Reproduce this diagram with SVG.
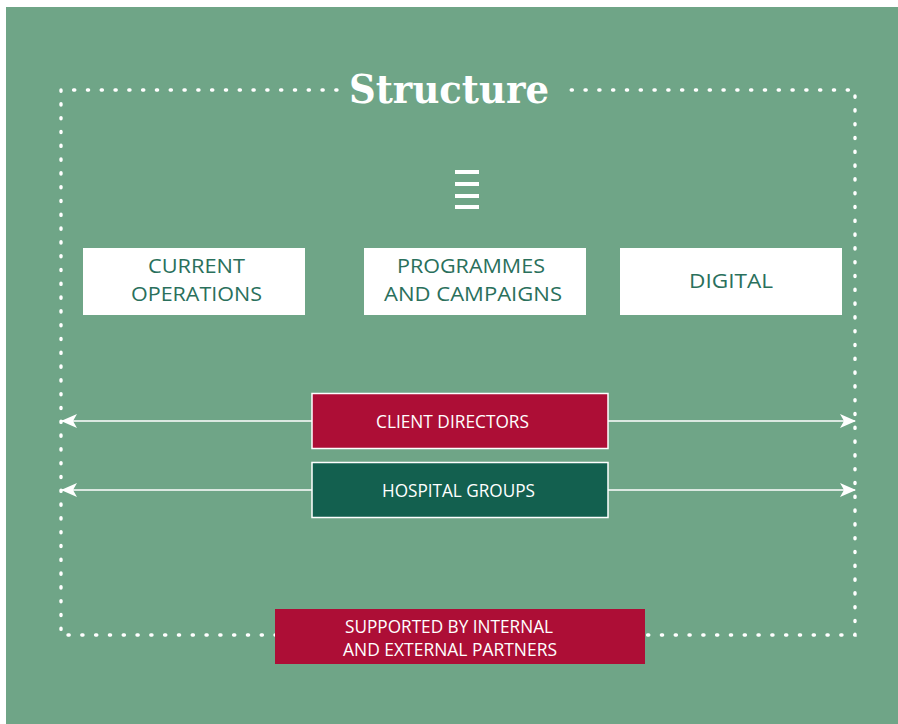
<svg xmlns="http://www.w3.org/2000/svg" width="898" height="724" viewBox="0 0 898 724">
  <defs>
    <style>
      .bg { fill: #6fa587; }
      .frame { fill: none; stroke: #ffffff; stroke-width: 3.4; stroke-linecap: round; stroke-dasharray: 1.2 12.6; }
      .title { font-family: "DejaVu Serif", "Liberation Serif", serif; font-weight: bold; font-size: 40px; fill: #ffffff; }
      .bar { fill: #ffffff; }
      .pill { fill: #ffffff; }
      .pill-text { font-family: "Open Sans", "Noto Sans", sans-serif; font-size: 20px; fill: #2a705c; text-anchor: middle; }
      .band-red { fill: #ad0e36; stroke: #ffffff; stroke-width: 1.5; }
      .band-green { fill: #13604f; stroke: #ffffff; stroke-width: 1.5; }
      .band-text { font-family: "Open Sans", "Noto Sans", sans-serif; font-size: 17.5px; fill: #ffffff; text-anchor: middle; }
      .link { stroke: #ffffff; stroke-width: 1.6; fill: none; }
      .support { fill: #ad0e36; }
    </style>
    <marker id="head" viewBox="0 0 16 14" refX="15" refY="7" markerWidth="16" markerHeight="14" markerUnits="userSpaceOnUse" orient="auto-start-reverse">
      <path d="M0,0 L16,7 L0,14 L4,7 Z" fill="#ffffff"/>
    </marker>
  </defs>

  <!-- panel -->
  <rect class="bg" x="6" y="7" width="892" height="717"/>

  <!-- dotted outline, open at the top for the heading -->
  <path class="frame" d="M337,90 H61 V635 H855 V90 H565"/>

  <g id="title">
    <text class="title" x="449" y="103" text-anchor="middle" textLength="200" lengthAdjust="spacingAndGlyphs">Structure</text>
  </g>

  <g id="menu-icon">
    <rect class="bar" x="455" y="170" width="24" height="4"/>
    <rect class="bar" x="455" y="182" width="24" height="4"/>
    <rect class="bar" x="455" y="194" width="24" height="4"/>
    <rect class="bar" x="455" y="205" width="24" height="4"/>
  </g>

  <g id="current-operations">
    <rect class="pill" x="83" y="248" width="222" height="67"/>
    <text class="pill-text" x="196.5" y="273" textLength="97" lengthAdjust="spacingAndGlyphs">CURRENT</text>
    <text class="pill-text" x="196.5" y="301" textLength="131" lengthAdjust="spacingAndGlyphs">OPERATIONS</text>
  </g>

  <g id="programmes-campaigns">
    <rect class="pill" x="364" y="248" width="222" height="67"/>
    <text class="pill-text" x="471" y="273" textLength="148" lengthAdjust="spacingAndGlyphs">PROGRAMMES</text>
    <text class="pill-text" x="473" y="301" textLength="178" lengthAdjust="spacingAndGlyphs">AND CAMPAIGNS</text>
  </g>

  <g id="digital">
    <rect class="pill" x="620" y="248" width="222" height="67"/>
    <text class="pill-text" x="731" y="288" textLength="84" lengthAdjust="spacingAndGlyphs">DIGITAL</text>
  </g>

  <g id="connectors">
    <line class="link" x1="312" y1="421" x2="62" y2="421" marker-end="url(#head)"/>
    <line class="link" x1="608" y1="421" x2="855" y2="421" marker-end="url(#head)"/>
    <line class="link" x1="312" y1="490" x2="62" y2="490" marker-end="url(#head)"/>
    <line class="link" x1="608" y1="490" x2="855" y2="490" marker-end="url(#head)"/>
  </g>

  <g id="client-directors">
    <rect class="band-red" x="312" y="393.5" width="296" height="55"/>
    <text class="band-text" x="452.5" y="428" textLength="153" lengthAdjust="spacingAndGlyphs">CLIENT DIRECTORS</text>
  </g>

  <g id="hospital-groups">
    <rect class="band-green" x="312" y="462.5" width="296" height="55"/>
    <text class="band-text" x="458.5" y="497" textLength="153" lengthAdjust="spacingAndGlyphs">HOSPITAL GROUPS</text>
  </g>

  <g id="partners">
    <rect class="support" x="275" y="609" width="370" height="55"/>
    <text class="band-text" x="449" y="633" textLength="208" lengthAdjust="spacingAndGlyphs">SUPPORTED BY INTERNAL</text>
    <text class="band-text" x="450" y="656" textLength="214" lengthAdjust="spacingAndGlyphs">AND EXTERNAL PARTNERS</text>
  </g>
</svg>
